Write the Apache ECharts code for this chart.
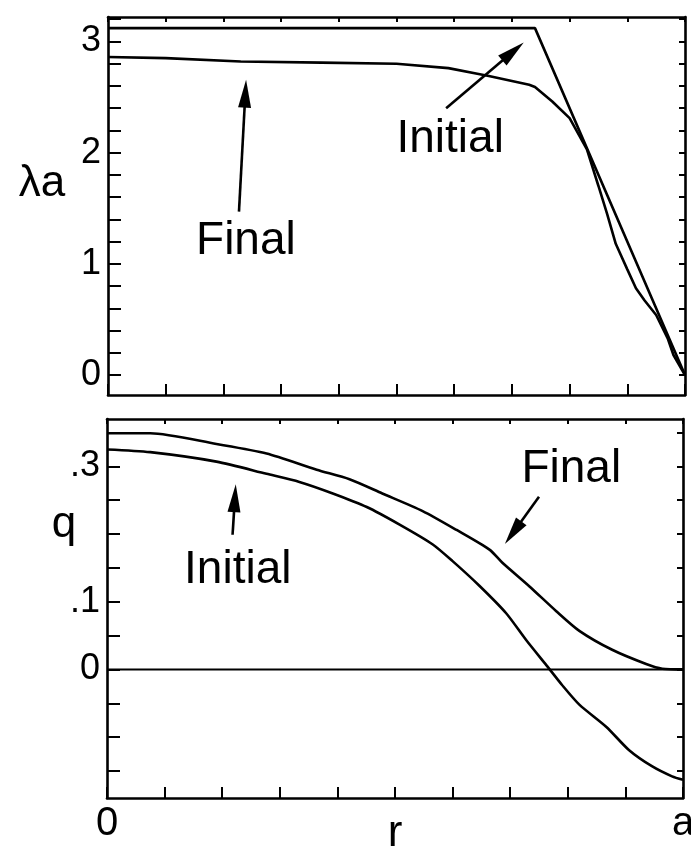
<!DOCTYPE html>
<html>
<head>
<meta charset="utf-8">
<script src="https://cdn.jsdelivr.net/npm/echarts@6/dist/echarts.min.js"></script>
<style>
  html, body { margin: 0; padding: 0; background: #ffffff; }
  #chart { width: 691px; height: 854px; }
</style>
</head>
<body>
<div id="chart"></div>
<script>
// Normalised radius r/a for each profile
const rLambdaInitial = [0, 0.74, 1.0];
const lambdaInitial  = [3.12, 3.12, 0.0];

const rLambdaFinal = [0, 0.1, 0.23, 0.37, 0.5, 0.59, 0.64, 0.66, 0.73, 0.74, 0.77, 0.80,
                      0.83, 0.85, 0.865, 0.88, 0.90, 0.915, 0.93, 0.95, 0.97, 0.98, 1.0];
const lambdaFinal  = [2.86, 2.85, 2.82, 2.81, 2.80, 2.76, 2.71, 2.69, 2.61, 2.59, 2.46, 2.31,
                      2.03, 1.70, 1.45, 1.18, 0.95, 0.78, 0.67, 0.54, 0.33, 0.18, 0.0];

const rQInitial = [0, 0.075, 0.19, 0.277, 0.334, 0.392, 0.451, 0.508, 0.565, 0.6, 0.646,
                   0.693, 0.728, 0.763, 0.79, 0.82, 0.867, 0.906, 0.946, 0.981, 1.0];
const qInitial  = [0.325, 0.321, 0.307, 0.289, 0.277, 0.26, 0.24, 0.214, 0.185, 0.16, 0.124,
                   0.083, 0.043, 0.006, -0.023, -0.052, -0.085, -0.119, -0.143, -0.158, -0.163];

const rQFinal = [0, 0.075, 0.19, 0.277, 0.364, 0.421, 0.478, 0.548, 0.607, 0.664, 0.686,
                 0.733, 0.78, 0.82, 0.877, 0.936, 0.964, 1.0];
const qFinal  = [0.349, 0.349, 0.333, 0.319, 0.295, 0.281, 0.26, 0.234, 0.206, 0.177, 0.158,
                 0.123, 0.086, 0.057, 0.029, 0.008, 0.001, 0.0];

// Reference level q = 0
const rZero = [0, 1];
const qZero = [0, 0];

// Tick marks and tick labels
const lambdaTicks = [0, 0.2, 0.4, 0.6, 0.8, 1.0, 1.2, 1.4, 1.6, 1.8, 2.0, 2.2, 2.4, 2.6, 2.8, 3.0, 3.2];
const lambdaLabelValues = [0, 1, 2, 3];
const lambdaLabelText = ['0', '1', '2', '3'];
const qTicks = [-0.15, -0.1, -0.05, 0, 0.05, 0.1, 0.15, 0.2, 0.25, 0.3, 0.35];
const qLabelValues = [0, 0.1, 0.3];
const qLabelText = ['0', '.1', '.3'];
const rLabelValues = [0, 1];
const rLabelText = ['0', 'a'];

const pairs = (xs, ys) => xs.map((x, i) => [x, ys[i]]);
const FONT = 'Liberation Sans, Arial, Helvetica, sans-serif';
const INK = '#000000';

function pickLabel(values, texts) {
  return function (v) {
    for (let i = 0; i < values.length; i++) {
      if (Math.abs(values[i] - v) < 1e-6) return texts[i];
    }
    return '';
  };
}

function frameLine(w) {
  return { show: true, onZero: false, lineStyle: { color: INK, width: w } };
}

function xBottom(grid, withLabels) {
  return {
    type: 'value', gridIndex: grid, position: 'bottom', min: 0, max: 1, interval: 0.1,
    axisLine: frameLine(2.6),
    axisTick: { show: true, inside: true, length: 11, lineStyle: { color: INK, width: 2 } },
    axisLabel: withLabels ? {
      show: true, customValues: rLabelValues, formatter: pickLabel(rLabelValues, rLabelText),
      fontFamily: FONT, fontSize: 40, color: INK, margin: 6
    } : { show: false },
    splitLine: { show: false },
    name: withLabels ? 'r' : '',
    nameLocation: 'middle', nameGap: 14, nameMoveOverlap: false,
    nameTextStyle: { fontFamily: FONT, fontSize: 44, color: INK, verticalAlign: 'top' }
  };
}

function xTop(grid) {
  return {
    type: 'value', gridIndex: grid, position: 'top', min: 0, max: 1, interval: 0.1,
    axisLine: frameLine(2.6),
    axisTick: { show: true, inside: true, length: 5, lineStyle: { color: INK, width: 2 } },
    axisLabel: { show: false }, splitLine: { show: false }
  };
}

function yLeft(grid, min, max, ticks, labelValues, labelText) {
  return {
    type: 'value', gridIndex: grid, position: 'left', min: min, max: max,
    axisLine: frameLine(2.6),
    axisTick: { show: true, inside: true, length: 13, customValues: ticks, lineStyle: { color: INK, width: 2 } },
    axisLabel: {
      show: true, customValues: labelValues, formatter: pickLabel(labelValues, labelText),
      fontFamily: FONT, fontSize: 36, color: INK, margin: 7
    },
    splitLine: { show: false }
  };
}

function yRight(grid, min, max, ticks) {
  return {
    type: 'value', gridIndex: grid, position: 'right', min: min, max: max,
    axisLine: frameLine(2.6),
    axisTick: { show: true, inside: true, length: 6, customValues: ticks, lineStyle: { color: INK, width: 2 } },
    axisLabel: { show: false }, splitLine: { show: false }
  };
}

const curveStyle = { color: INK, width: 2.6 };

function arrow(from, to) {
  return [{ coord: from }, { coord: to }];
}

function annotation(name, at) {
  return { name: name, coord: at };
}

const arrowMarkStyle = {
  silent: true, animation: false,
  symbol: ['none', 'triangle'], symbolSize: [13, 28],
  lineStyle: { color: INK, width: 2.6, type: 'solid' },
  label: { show: false }, emphasis: { disabled: true }
};

const textMarkStyle = {
  silent: true, animation: false,
  symbol: 'circle', symbolSize: 1, itemStyle: { color: 'rgba(0,0,0,0)' },
  label: { show: true, position: 'inside', formatter: '{b}', fontFamily: FONT, fontSize: 46, color: INK },
  emphasis: { disabled: true }
};

const chart = echarts.init(document.getElementById('chart'), null, { renderer: 'canvas' });

chart.setOption({
  animation: false,
  backgroundColor: '#ffffff',
  grid: [
    { left: 108, top: 17, width: 577, height: 378, outerBoundsMode: 'none', containLabel: false },
    { left: 107, top: 419, width: 576, height: 379, outerBoundsMode: 'none', containLabel: false }
  ],
  xAxis: [xBottom(0, false), xTop(0), xBottom(1, true), xTop(1)],
  yAxis: [
    yLeft(0, -0.18, 3.22, lambdaTicks, lambdaLabelValues, lambdaLabelText),
    yRight(0, -0.18, 3.22, lambdaTicks),
    yLeft(1, -0.19, 0.37, qTicks, qLabelValues, qLabelText),
    yRight(1, -0.19, 0.37, qTicks)
  ],
  graphic: [
    { type: 'text', x: 42, y: 184, silent: true,
      style: { text: 'λa', font: '44px ' + FONT, fill: INK, align: 'center', verticalAlign: 'middle' } },
    { type: 'text', x: 64, y: 525, silent: true,
      style: { text: 'q', font: '44px ' + FONT, fill: INK, align: 'center', verticalAlign: 'middle' } }
  ],
  series: [
    {
      name: 'λa initial', type: 'line', xAxisIndex: 0, yAxisIndex: 0,
      data: pairs(rLambdaInitial, lambdaInitial), showSymbol: false, lineStyle: curveStyle,
      markLine: Object.assign({ data: [arrow([0.586, 2.40], [0.702, 2.91])] }, arrowMarkStyle),
      markPoint: Object.assign({ data: [annotation('Initial', [0.593, 2.12])] }, textMarkStyle)
    },
    {
      name: 'λa final', type: 'line', xAxisIndex: 0, yAxisIndex: 0,
      data: pairs(rLambdaFinal, lambdaFinal), showSymbol: false, lineStyle: curveStyle,
      markLine: Object.assign({ data: [arrow([0.227, 1.47], [0.238, 2.53])] }, arrowMarkStyle),
      markPoint: Object.assign({ data: [annotation('Final', [0.239, 1.205])] }, textMarkStyle)
    },
    {
      name: 'q zero', type: 'line', xAxisIndex: 2, yAxisIndex: 2,
      data: pairs(rZero, qZero), showSymbol: false, lineStyle: { color: INK, width: 2 }
    },
    {
      name: 'q initial', type: 'line', xAxisIndex: 2, yAxisIndex: 2,
      data: pairs(rQInitial, qInitial), showSymbol: false, lineStyle: curveStyle,
      smooth: 0.25,
      markLine: Object.assign({ data: [arrow([0.218, 0.199], [0.222, 0.253])] }, arrowMarkStyle),
      markPoint: Object.assign({ data: [annotation('Initial', [0.227, 0.147])] }, textMarkStyle)
    },
    {
      name: 'q final', type: 'line', xAxisIndex: 2, yAxisIndex: 2,
      data: pairs(rQFinal, qFinal), showSymbol: false, lineStyle: curveStyle,
      smooth: 0.25,
      markLine: Object.assign({ data: [arrow([0.750, 0.255], [0.705, 0.202])] }, arrowMarkStyle),
      markPoint: Object.assign({ data: [annotation('Final', [0.806, 0.295])] }, textMarkStyle)
    }
  ]
});
</script>
</body>
</html>
